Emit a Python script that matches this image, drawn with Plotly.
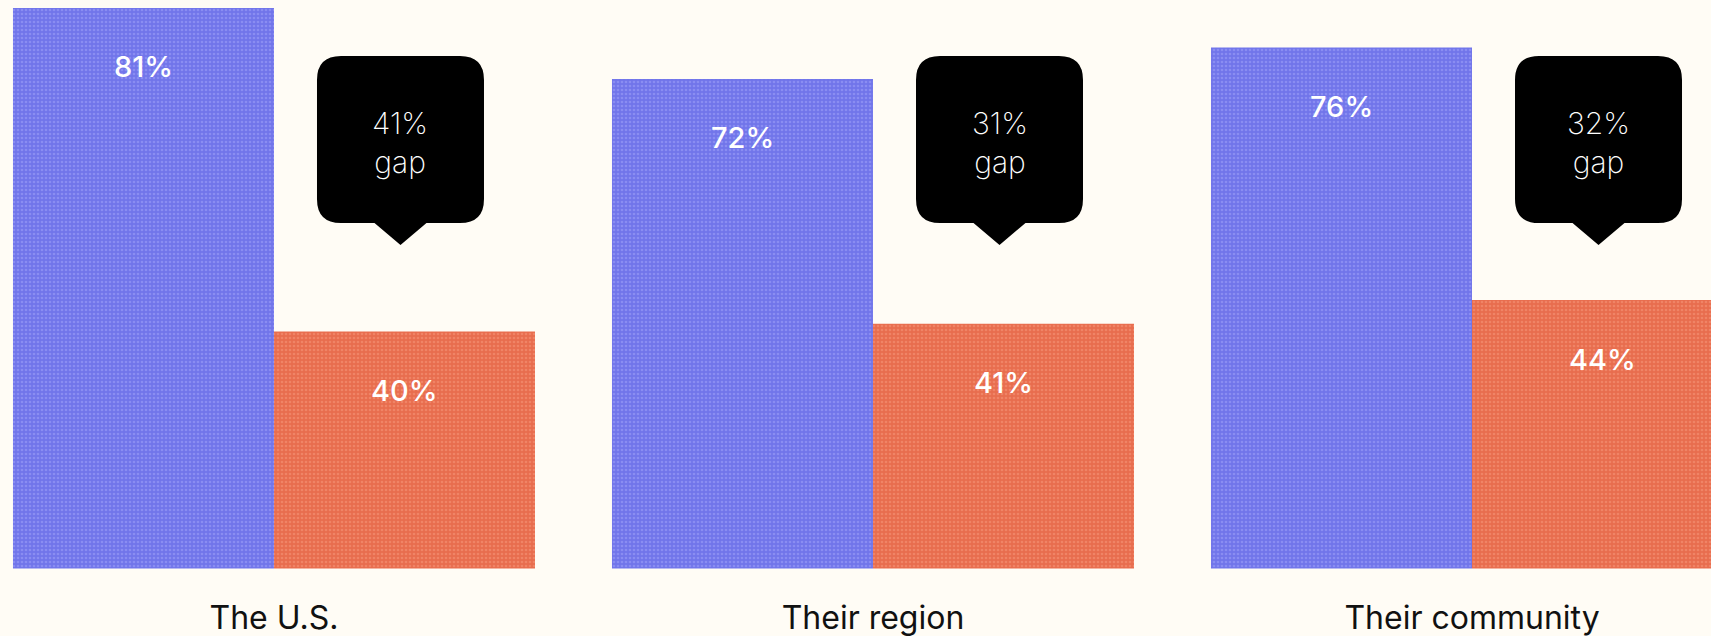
import plotly.graph_objects as go

# Survey results by geographic scope
categories = ["The U.S.", "Their region", "Their community"]
share_high = [81, 72, 76]
share_low = [40, 41, 44]

BLUE = "#7175EA"
BLUE_GRAIN = "#8a8df2"
ORANGE = "#E86D4E"
ORANGE_GRAIN = "#f08466"
BG = "#FFFCF5"

BARGAP = 0.1285
bar_w = (1 - BARGAP) / 2  # width of each bar in category units

fig = go.Figure()
fig.add_trace(go.Bar(
    x=categories, y=share_high, name="Higher share",
    marker=dict(color=BLUE, line=dict(width=0),
                pattern=dict(shape=".", fillmode="replace", bgcolor=BLUE,
                             fgcolor=BLUE_GRAIN, size=4, solidity=0.35)),
    hoverinfo="skip",
))
fig.add_trace(go.Bar(
    x=categories, y=share_low, name="Lower share",
    marker=dict(color=ORANGE, line=dict(width=0),
                pattern=dict(shape=".", fillmode="replace", bgcolor=ORANGE,
                             fgcolor=ORANGE_GRAIN, size=4, solidity=0.35)),
    hoverinfo="skip",
))

annotations = []
shapes = []
label_font = dict(family="Inter, Roboto, sans-serif", size=29, color="white", weight=500)
gap_font = dict(family="Inter, Roboto, sans-serif", size=30, color="white", weight=200)

for i, (cat, hi, lo) in enumerate(zip(categories, share_high, share_low)):
    x_hi = i - bar_w / 2
    x_lo = i + bar_w / 2
    # value labels inside the bars
    annotations.append(dict(x=x_hi, y=hi, xref="x", yref="y", text=f"{hi}%",
                            showarrow=False, yshift=-59, yanchor="middle",
                            font=label_font))
    annotations.append(dict(x=x_lo, y=lo, xref="x", yref="y", text=f"{lo}%",
                            showarrow=False, yshift=-59, yanchor="middle",
                            font=label_font))

    # speech-bubble callout with the gap between the two bars
    cx = -4
    half = 83.5
    left, right = cx - half, cx + half
    top, bottom = -56, -223
    r = 24
    tip_y = -245
    tip_half = 26
    path = (
        f"M {left + r},{top} H {right - r} Q {right},{top} {right},{top - r} "
        f"V {bottom + r} Q {right},{bottom} {right - r},{bottom} "
        f"H {cx + tip_half} L {cx},{tip_y} L {cx - tip_half},{bottom} "
        f"H {left + r} Q {left},{bottom} {left},{bottom + r} "
        f"V {top - r} Q {left},{top} {left + r},{top} Z"
    )
    shapes.append(dict(type="path", xref="x", yref="paper",
                       xsizemode="pixel", ysizemode="pixel",
                       xanchor=x_lo, yanchor=1, path=path,
                       fillcolor="black", line=dict(width=0), layer="above"))
    annotations.append(dict(x=x_lo, y=1, xref="x", yref="paper",
                            text=f"{hi - lo}%<br>gap", showarrow=False,
                            xshift=cx, yshift=-142.5, yanchor="middle",
                            font=gap_font))

fig.update_layout(
    template="none",
    width=1711, height=636, autosize=False,
    margin=dict(l=0, r=0, t=0, b=0, pad=0),
    paper_bgcolor=BG, plot_bgcolor=BG,
    barmode="group", bargap=BARGAP, bargroupgap=0,
    showlegend=False,
    annotations=annotations, shapes=shapes,
    font=dict(family="Inter, Roboto, sans-serif"),
)
fig.update_xaxes(
    type="category", range=[-0.4574, 2.399], automargin=False,
    showgrid=False, zeroline=False, showline=False, ticks="",
    tickfont=dict(family="Inter, Roboto, sans-serif", size=32, color="#111111"),
    ticklabelstandoff=27,
)
fig.update_yaxes(
    range=[10, 82], domain=[1 - 568.5 / 636, 1], automargin=False,
    visible=False, showgrid=False, zeroline=False,
)

fig.write_html("out.html", config={"displayModeBar": False})
